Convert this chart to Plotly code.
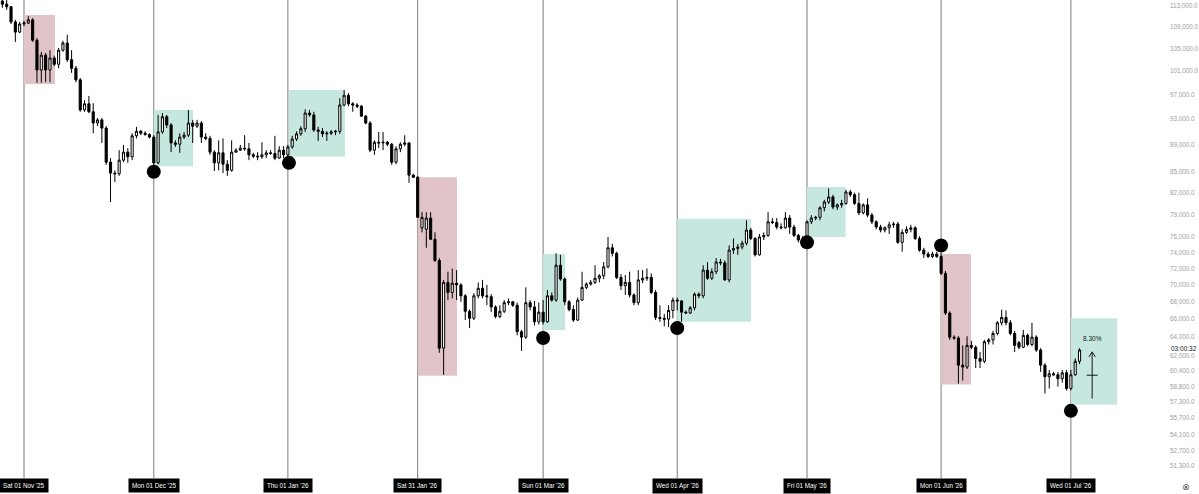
import math
import pandas as pd
import plotly.graph_objects as go

# ---------------- data (prices in thousands of USD, daily candles) ----------------
first_day = "2025-10-27"

opens = [113.9, 113.3, 112.8, 109.9, 108.0, 109.5, 109.7, 110.3, 106.5, 101.2,
         103.8, 101.2, 103.3, 102.2, 104.7, 106.0, 103.0, 101.5, 99.5, 94.5,
         95.5, 94.2, 92.4, 92.9, 91.6, 86.4, 84.8, 84.7, 86.7, 87.9,
         87.2, 90.4, 91.1, 90.8, 90.6, 90.2, 86.3, 91.0, 93.4, 92.1,
         89.3, 89.1, 90.2, 90.5, 92.4, 91.9, 92.4, 90.2, 90.0, 87.9,
         86.3, 87.8, 86.1, 85.2, 87.9, 88.2, 88.5, 88.4, 87.5, 87.3,
         87.2, 87.5, 87.8, 87.7, 87.0, 88.2, 87.5, 88.7, 89.9, 90.7,
         91.5, 94.0, 93.7, 91.3, 91.1, 90.7, 90.8, 91.0, 91.1, 95.3,
         96.9, 95.5, 95.3, 95.1, 93.5, 92.4, 88.2, 89.4, 89.3, 89.4,
         89.1, 86.4, 88.4, 89.1, 89.3, 84.5, 84.2, 77.2, 77.0, 78.5,
         75.7, 73.0, 62.8, 70.3, 69.1, 70.2, 70.0, 68.7, 66.9, 66.1,
         68.7, 69.6, 68.7, 68.6, 67.4, 66.3, 66.9, 67.9, 68.0, 67.6,
         64.6, 64.0, 67.9, 67.4, 65.7, 66.8, 65.7, 68.7, 68.2, 72.4,
         70.7, 68.0, 67.1, 65.9, 68.2, 69.7, 70.1, 70.3, 70.8, 71.1,
         72.2, 74.6, 73.9, 70.9, 69.9, 70.3, 68.8, 67.9, 70.6, 70.8,
         70.9, 69.1, 66.2, 66.1, 66.0, 67.0, 68.2, 68.1, 66.8, 66.7,
         67.3, 68.9, 68.7, 71.8, 70.8, 71.6, 72.8, 72.7, 70.6, 74.3,
         74.5, 74.7, 75.2, 76.9, 75.8, 73.7, 76.0, 76.2, 78.0, 77.9,
         77.3, 77.2, 78.5, 77.3, 76.2, 75.6, 75.2, 78.0, 78.5, 78.6,
         79.9, 80.7, 81.4, 80.0, 80.3, 80.5, 82.1, 81.7, 80.5, 79.2,
         80.3, 78.9, 78.0, 77.3, 76.9, 77.2, 77.6, 77.7, 75.3, 76.6,
         77.0, 77.2, 75.8, 74.3, 73.8, 73.5, 73.8, 73.5, 71.4, 66.7,
         64.0, 63.9, 61.0, 60.8, 63.1, 62.9, 61.7, 61.4, 63.5, 63.7,
         64.4, 65.6, 66.2, 65.6, 64.4, 63.4, 62.9, 64.2, 63.2, 64.0,
         62.6, 61.0, 59.8, 60.1, 60.0, 59.6, 60.2, 58.6, 60.0, 61.4]

highs = [114.5, 114.1, 112.9, 110.3, 109.9, 110.1, 111.0, 110.6, 106.9, 104.4,
         104.2, 104.7, 103.7, 105.1, 106.4, 107.5, 104.7, 101.9, 99.8, 96.1,
         96.8, 95.6, 93.2, 93.2, 91.9, 87.0, 85.2, 88.2, 89.0, 88.5,
         90.8, 91.8, 91.3, 91.1, 90.8, 90.5, 93.7, 94.0, 93.7, 92.4,
         89.7, 90.8, 91.0, 94.5, 92.9, 92.9, 92.7, 90.8, 90.4, 88.2,
         89.7, 90.0, 86.7, 89.7, 88.5, 89.0, 90.5, 89.3, 87.8, 87.9,
         89.4, 88.2, 88.2, 90.4, 88.8, 88.8, 89.0, 90.4, 91.1, 91.9,
         94.6, 94.5, 94.2, 91.8, 91.6, 91.1, 91.3, 91.3, 96.4, 97.8,
         97.3, 95.8, 95.6, 95.3, 93.7, 92.7, 89.7, 91.0, 91.0, 89.6,
         89.3, 88.8, 89.4, 90.5, 89.4, 84.7, 84.4, 79.3, 79.3, 79.3,
         76.6, 73.3, 70.6, 71.6, 72.0, 71.8, 70.2, 68.9, 67.1, 69.0,
         70.3, 70.6, 70.0, 68.9, 67.6, 67.6, 68.2, 68.4, 68.1, 67.9,
         64.8, 69.7, 68.2, 68.1, 67.9, 68.2, 69.4, 69.1, 73.9, 73.7,
         70.9, 68.2, 67.6, 68.5, 71.6, 70.3, 70.6, 72.4, 71.3, 72.8,
         76.0, 75.1, 74.1, 71.3, 71.2, 71.6, 69.0, 71.8, 71.8, 72.0,
         71.4, 69.4, 67.6, 66.6, 67.6, 68.5, 68.5, 68.2, 67.0, 67.5,
         69.1, 69.1, 72.4, 72.8, 72.0, 73.3, 73.2, 73.0, 74.9, 75.8,
         75.1, 75.5, 78.2, 77.2, 76.0, 76.4, 76.6, 79.3, 78.5, 78.5,
         77.8, 79.3, 78.9, 77.6, 76.4, 76.1, 78.2, 78.9, 78.8, 80.1,
         81.0, 82.6, 81.7, 80.5, 81.0, 82.4, 82.4, 82.0, 82.0, 80.5,
         81.2, 79.2, 78.2, 77.6, 77.4, 78.0, 78.0, 78.0, 77.0, 77.4,
         77.6, 77.4, 76.1, 74.6, 74.1, 74.1, 74.1, 73.9, 71.7, 66.9,
         64.2, 64.1, 63.1, 64.1, 63.6, 63.1, 62.4, 63.7, 63.9, 64.7,
         65.8, 67.1, 67.0, 65.9, 64.7, 63.6, 64.8, 64.4, 65.6, 64.2,
         62.8, 61.2, 60.5, 60.3, 60.3, 60.5, 60.5, 60.5, 61.7, 62.8]

lows = [112.6, 112.2, 109.5, 106.2, 107.8, 109.1, 109.5, 106.2, 99.0, 99.0,
        99.1, 99.1, 101.9, 101.5, 104.4, 102.6, 100.7, 99.1, 94.2, 94.2,
        94.0, 90.8, 91.9, 89.3, 86.0, 80.7, 83.5, 84.4, 86.4, 86.3,
        86.7, 90.0, 90.5, 90.4, 90.0, 86.0, 86.1, 90.7, 91.6, 87.9,
        88.7, 87.8, 89.9, 90.2, 89.3, 91.6, 89.3, 89.7, 87.5, 85.1,
        85.2, 84.8, 84.4, 85.0, 87.8, 88.1, 88.1, 86.7, 87.0, 86.7,
        86.9, 87.0, 87.5, 86.7, 86.9, 87.0, 87.2, 88.4, 89.6, 90.4,
        91.0, 93.4, 91.0, 89.6, 90.2, 89.6, 90.5, 90.5, 90.7, 95.1,
        95.1, 94.2, 94.8, 93.4, 92.2, 87.9, 87.5, 88.5, 88.2, 88.8,
        86.0, 86.1, 87.9, 88.8, 83.4, 84.1, 78.5, 76.6, 74.6, 75.6,
        72.8, 62.3, 60.0, 68.2, 68.4, 68.2, 68.0, 65.9, 65.0, 65.9,
        68.4, 68.4, 67.6, 66.8, 66.1, 66.1, 66.7, 67.6, 67.4, 64.2,
        62.5, 63.8, 67.0, 65.3, 65.4, 65.4, 65.6, 68.0, 68.0, 70.5,
        67.6, 66.9, 65.7, 65.8, 68.1, 69.5, 69.9, 70.1, 70.3, 70.7,
        72.0, 73.5, 70.7, 69.4, 68.8, 68.5, 67.6, 67.6, 70.2, 70.5,
        68.9, 65.9, 65.7, 65.2, 65.1, 66.1, 67.0, 65.7, 66.6, 66.6,
        67.0, 68.4, 68.4, 70.6, 70.6, 71.3, 72.4, 70.5, 70.3, 73.8,
        73.7, 74.4, 74.9, 75.6, 73.5, 73.6, 75.6, 76.0, 77.7, 77.0,
        77.0, 77.1, 76.4, 76.0, 75.3, 74.9, 74.9, 77.7, 78.2, 78.2,
        79.4, 80.4, 79.7, 79.6, 79.9, 80.3, 81.4, 80.3, 78.9, 79.0,
        78.6, 77.7, 77.0, 76.6, 76.6, 76.4, 77.2, 75.1, 74.1, 76.4,
        76.6, 75.6, 74.1, 73.3, 73.3, 73.3, 73.3, 71.2, 66.5, 63.7,
        63.7, 59.1, 59.4, 60.6, 62.7, 60.7, 60.7, 61.2, 63.2, 63.2,
        64.2, 65.3, 65.3, 64.2, 62.4, 62.7, 62.8, 63.0, 63.0, 62.4,
        60.3, 58.1, 58.6, 59.9, 58.8, 59.2, 58.4, 58.4, 59.9, 61.1]

closes = [113.3, 112.8, 109.9, 108.0, 109.5, 109.7, 110.3, 106.5, 101.2, 103.8,
          101.2, 103.3, 102.2, 104.7, 106.0, 103.0, 101.5, 99.5, 94.5, 95.5,
          94.2, 92.4, 92.9, 91.6, 86.4, 84.8, 84.7, 86.7, 87.9, 87.2,
          90.4, 91.1, 90.8, 90.6, 90.2, 86.3, 91.0, 93.4, 92.1, 89.3,
          89.1, 90.2, 90.5, 92.4, 91.9, 92.4, 90.2, 90.0, 87.9, 86.3,
          87.8, 86.1, 85.2, 87.9, 88.2, 88.5, 88.4, 87.5, 87.3, 87.2,
          87.5, 87.8, 87.7, 87.0, 88.2, 87.5, 88.7, 89.9, 90.7, 91.5,
          94.0, 93.7, 91.3, 91.1, 90.7, 90.8, 91.0, 91.1, 95.3, 96.9,
          95.5, 95.3, 95.1, 93.5, 92.4, 88.2, 89.4, 89.3, 89.4, 89.1,
          86.4, 88.4, 89.1, 89.3, 84.5, 84.2, 78.6, 78.6, 78.5, 75.7,
          73.0, 62.8, 70.3, 69.1, 70.2, 70.0, 68.7, 66.9, 66.1, 68.7,
          69.6, 68.7, 68.6, 67.4, 66.3, 66.9, 67.9, 68.0, 67.6, 64.6,
          64.0, 67.9, 67.4, 65.7, 66.8, 65.7, 68.7, 68.2, 72.4, 70.7,
          68.0, 67.1, 65.9, 68.2, 69.7, 70.1, 70.3, 70.8, 71.1, 72.2,
          74.6, 73.9, 70.9, 69.9, 70.3, 68.8, 67.9, 70.6, 70.8, 70.9,
          69.1, 66.2, 66.1, 66.0, 67.0, 68.2, 68.1, 66.8, 66.7, 67.3,
          68.9, 68.7, 71.8, 70.8, 71.6, 72.8, 72.7, 70.6, 74.3, 74.5,
          74.7, 75.2, 76.9, 75.8, 73.7, 76.0, 76.2, 78.0, 77.9, 77.3,
          77.2, 78.5, 77.3, 76.2, 75.6, 75.2, 78.0, 78.5, 78.6, 79.9,
          80.7, 81.4, 80.0, 80.3, 80.5, 82.1, 81.7, 80.5, 79.2, 80.3,
          78.9, 78.0, 77.3, 76.9, 77.2, 77.6, 77.7, 75.3, 76.6, 77.0,
          77.2, 75.8, 74.3, 73.8, 73.5, 73.8, 73.5, 71.4, 66.7, 64.0,
          63.9, 61.0, 60.8, 63.1, 62.9, 61.7, 61.4, 63.5, 63.7, 64.4,
          65.6, 66.2, 65.6, 64.4, 63.1, 62.9, 64.2, 63.2, 64.0, 62.6,
          61.0, 59.8, 60.1, 60.0, 59.6, 60.2, 58.6, 60.0, 61.4, 62.6]

# month markers (vertical lines + bottom labels)
marker_dates = ["2025-11-01", "2025-12-01", "2026-01-01", "2026-01-31", "2026-03-01",
                "2026-04-01", "2026-05-01", "2026-06-01", "2026-07-01"]
marker_labels = ["Sat 01 Nov '25", "Mon 01 Dec '25", "Thu 01 Jan '26", "Sat 31 Jan '26",
                 "Sun 01 Mar '26", "Wed 01 Apr '26", "Fri 01 May '26", "Mon 01 Jun '26",
                 "Wed 01 Jul '26"]

# highlighted zones
zone_start = ["2025-11-01 00:00", "2025-12-01 00:00", "2026-01-01 06:00", "2026-01-31 00:00",
              "2026-03-01 00:00", "2026-04-01 00:00", "2026-05-01 00:00", "2026-06-01 00:00",
              "2026-07-01 00:00"]
zone_end = ["2025-11-08 04:00", "2025-12-10 02:00", "2026-01-14 05:00", "2026-02-09 02:00",
            "2026-03-06 02:00", "2026-04-18 01:00", "2026-05-09 22:00", "2026-06-07 22:00",
            "2026-07-11 17:00"]
zone_top = [111.2, 94.5, 97.8, 84.2, 73.8, 78.4, 82.8, 73.8, 66.1]
zone_bottom = [98.8, 85.8, 87.2, 59.9, 64.8, 65.7, 76.0, 59.0, 57.0]
zone_kind = ["bear", "bull", "bull", "bear", "bull", "bull", "bull", "bear", "bull"]

# black dots at month opens
dot_dates = ["2025-12-01 00:00", "2026-01-01 06:00", "2026-03-01 00:00", "2026-04-01 00:00",
             "2026-05-01 00:00", "2026-06-01 00:00", "2026-07-01 00:00"]
dot_prices = [85.0, 86.3, 63.9, 65.0, 75.3, 74.9, 56.4]

# price-range measurement
range_date = "2026-07-05 22:00"
range_from = 57.6
range_to = 62.4
range_label = "8.30%"
countdown = "03:00:32"
last_price = 62.75

tick_prices = [113000, 109000, 105000, 101000, 97000, 93000, 89000, 85000, 82000, 79000,
               76000, 74000, 72000, 70000, 68000, 66000, 64000, 62000, 60400, 58800,
               57300, 55700, 54100, 52700, 51300]

K = 1000.0
# ---------------- figure ----------------
W, H = 1199, 494
ML, MR, MT, MB = 0, 36, 0, 16
plot_w = W - ML - MR
plot_h = H - MT - MB

px_per_day = 4.326
px_per_ln = 583.0

dates = pd.date_range(first_day, periods=len(closes), freq="D")

fig = go.Figure()
fig.add_trace(go.Candlestick(
    x=dates,
    open=[v * K for v in opens], high=[v * K for v in highs],
    low=[v * K for v in lows], close=[v * K for v in closes],
    increasing=dict(line=dict(color="#000000", width=1), fillcolor="#ffffff"),
    decreasing=dict(line=dict(color="#000000", width=1), fillcolor="#000000"),
    whiskerwidth=0, hoverinfo="skip", showlegend=False,
))

fig.add_trace(go.Scatter(
    x=pd.to_datetime(dot_dates, format="%Y-%m-%d %H:%M"), y=[v * K for v in dot_prices],
    mode="markers", marker=dict(size=14, color="#000000", line=dict(width=0)),
    hoverinfo="skip", showlegend=False,
))

# price range: vertical arrow (shaft + open chevron head) and mid tick
rd = pd.Timestamp(range_date)
mid_price = math.sqrt(range_from * range_to)
half_tick = pd.Timedelta(days=5.5 / px_per_day)
head_dx = pd.Timedelta(days=3.2 / px_per_day)
head_dy = math.exp(-5 / px_per_ln)
fig.add_trace(go.Scatter(
    x=[rd, rd, None, rd - half_tick, rd + half_tick, None,
       rd - head_dx, rd, rd + head_dx],
    y=[range_from * K, range_to * K, None, mid_price * K, mid_price * K, None,
       range_to * K * head_dy, range_to * K, range_to * K * head_dy],
    mode="lines", line=dict(color="#131722", width=1),
    hoverinfo="skip", showlegend=False, connectgaps=False,
))

shapes = []
for s, e, t, b, kind in zip(zone_start, zone_end, zone_top, zone_bottom, zone_kind):
    shapes.append(dict(type="rect", xref="x", yref="y", x0=s, x1=e, y0=b * K, y1=t * K,
                       fillcolor="#c6e7e0" if kind == "bull" else "#e0c4c7",
                       line=dict(width=0), layer="below"))
for d in marker_dates:
    shapes.append(dict(type="line", xref="x", yref="paper", x0=d, x1=d, y0=0, y1=1,
                       line=dict(color="#7b7b7b", width=1), layer="below"))

annotations = []
for d, lab in zip(marker_dates, marker_labels):
    annotations.append(dict(x=d, xref="x", y=0, yref="paper", yanchor="top",
                            text=lab, showarrow=False, bgcolor="#000000",
                            font=dict(color="#ffffff", size=6.3, family="Liberation Sans"),
                            borderpad=3, yshift=0))

annotations.append(dict(x=rd, xref="x", y=math.log10(range_to * K), yref="y",
                        yshift=13, text=range_label, showarrow=False,
                        font=dict(color="#131722", size=6.5, family="Liberation Sans")))
annotations.append(dict(x=1, xref="paper", xanchor="left", xshift=6,
                        y=math.log10(last_price * K), yref="y", yanchor="middle",
                        text=countdown, showarrow=False,
                        font=dict(color="#131722", size=6.5, family="Liberation Sans")))
annotations.append(dict(x=1, xref="paper", xanchor="left", xshift=17,
                        y=0, yref="paper", yanchor="top", yshift=-2,
                        text="⊗", showarrow=False,
                        font=dict(color="#555555", size=9, family="DejaVu Sans")))

# axis ranges so that the day spacing and log scale match the reference
origin = pd.Timestamp("2025-11-01")
x0 = origin - pd.Timedelta(days=24 / px_per_day)
x1 = origin + pd.Timedelta(days=(plot_w - 24) / px_per_day)
top_price = 114110.0
bot_price = top_price * math.exp(-plot_h / px_per_ln)

fig.update_layout(
    width=W, height=H, margin=dict(l=ML, r=MR, t=MT, b=MB),
    paper_bgcolor="#ffffff", plot_bgcolor="#ffffff",
    shapes=shapes, annotations=annotations, showlegend=False,
    font=dict(family="Liberation Sans"),
    xaxis=dict(range=[x0, x1], showgrid=False, zeroline=False, showticklabels=False,
               ticks="", showline=False, rangeslider=dict(visible=False), fixedrange=True),
    yaxis=dict(type="log", side="right", range=[math.log10(bot_price), math.log10(top_price)],
               showgrid=False, zeroline=False, showline=False, ticks="",
               tickvals=tick_prices, ticktext=[f"{v:,.1f}" for v in tick_prices],
               tickfont=dict(size=6.3, color="#9a9da6", family="Liberation Sans"),
               ticklabelstandoff=6, fixedrange=True),
)

fig.write_html("out.html")
